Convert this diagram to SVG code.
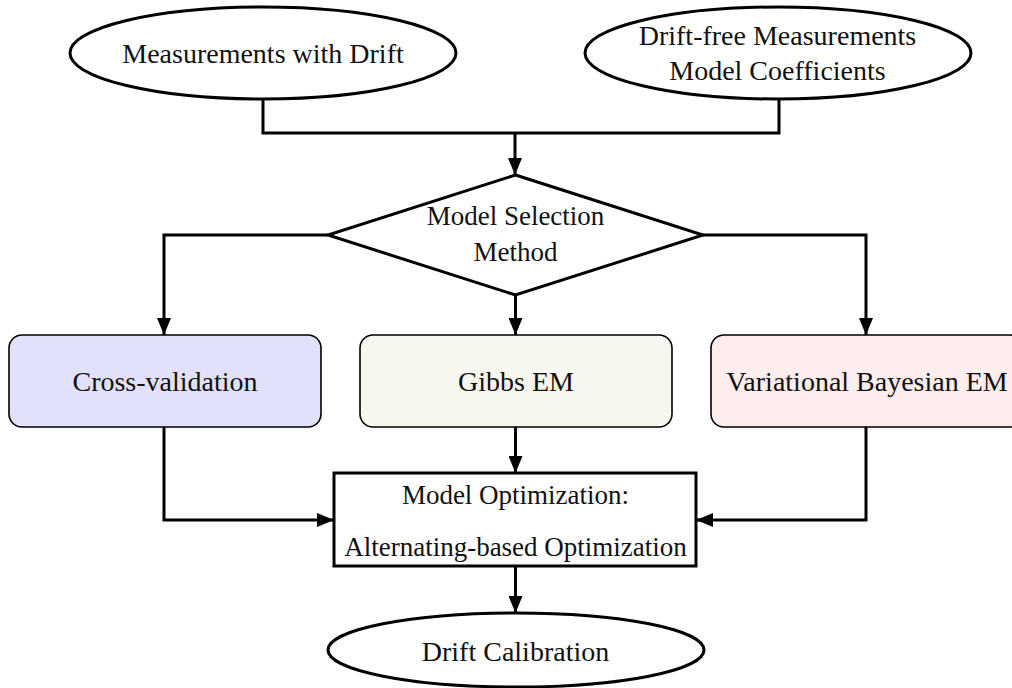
<svg xmlns="http://www.w3.org/2000/svg" width="1012" height="688" viewBox="0 0 1012 688">
  <style>
    .lbl { font-family: "Liberation Serif", "Times New Roman", serif; font-size: 28px; fill: #111; text-anchor: middle; }
    .lbl-sm { font-size: 27px; }
    .term { fill: #fff; stroke: #000; stroke-width: 3; }
    .step { stroke: #000; stroke-width: 1.6; }
    .edge { fill: none; stroke: #000; stroke-width: 3; }
  </style>
  <defs>
    <marker id="arrow" viewBox="0 0 17 14" refX="17" refY="7" markerWidth="17" markerHeight="14" markerUnits="userSpaceOnUse" orient="auto">
      <path d="M0,0 L17,7 L0,14 z" fill="#000"/>
    </marker>
  </defs>

  <rect width="1012" height="688" fill="#fff"/>

  <!-- connectors -->
  <g id="connectors">
    <path class="edge" d="M263,99 V133 H779 V99"/>
    <path class="edge" d="M515,133 V175" marker-end="url(#arrow)"/>
    <path class="edge" d="M328,235 H164 V335" marker-end="url(#arrow)"/>
    <path class="edge" d="M703,235 H866 V335" marker-end="url(#arrow)"/>
    <path class="edge" d="M515.5,295 V335" marker-end="url(#arrow)"/>
    <path class="edge" d="M164,427 V520 H334" marker-end="url(#arrow)"/>
    <path class="edge" d="M866,427 V520 H696" marker-end="url(#arrow)"/>
    <path class="edge" d="M515.5,427 V473" marker-end="url(#arrow)"/>
    <path class="edge" d="M515.5,566 V613" marker-end="url(#arrow)"/>
  </g>

  <!-- inputs -->
  <g id="measurements-drift">
    <ellipse class="term" cx="263" cy="53" rx="193" ry="46"/>
    <text class="lbl" x="263" y="63">Measurements with Drift</text>
  </g>
  <g id="drift-free-inputs">
    <ellipse class="term" cx="778" cy="53" rx="193" ry="46"/>
    <text class="lbl" x="777.5" y="45">Drift-free Measurements</text>
    <text class="lbl" x="777.5" y="80">Model Coefficients</text>
  </g>

  <!-- decision -->
  <g id="model-selection">
    <polygon class="term" points="515.5,175 703,235 515.5,295 328,235"/>
    <text class="lbl lbl-sm" x="515.5" y="225">Model Selection</text>
    <text class="lbl lbl-sm" x="515.5" y="261">Method</text>
  </g>

  <!-- methods -->
  <g id="cross-validation">
    <rect class="step" x="9" y="335" width="312" height="92" rx="13" fill="#e1e1fb"/>
    <text class="lbl" x="165" y="391">Cross-validation</text>
  </g>
  <g id="gibbs-em">
    <rect class="step" x="360" y="335" width="312" height="92" rx="13" fill="#f7f6ef"/>
    <text class="lbl" x="516" y="391">Gibbs EM</text>
  </g>
  <g id="variational-bayesian-em">
    <rect class="step" x="711" y="335" width="312" height="92" rx="13" fill="#fdeded"/>
    <text class="lbl" x="867" y="391">Variational Bayesian EM</text>
  </g>

  <!-- optimization -->
  <g id="model-optimization">
    <rect class="term" x="334" y="473" width="362" height="93"/>
    <text class="lbl lbl-sm" x="515.5" y="504">Model Optimization:</text>
    <text class="lbl lbl-sm" x="515.5" y="556">Alternating-based Optimization</text>
  </g>

  <!-- output -->
  <g id="drift-calibration">
    <ellipse class="term" cx="516" cy="650" rx="188" ry="37"/>
    <text class="lbl" x="515.5" y="661">Drift Calibration</text>
  </g>
</svg>
